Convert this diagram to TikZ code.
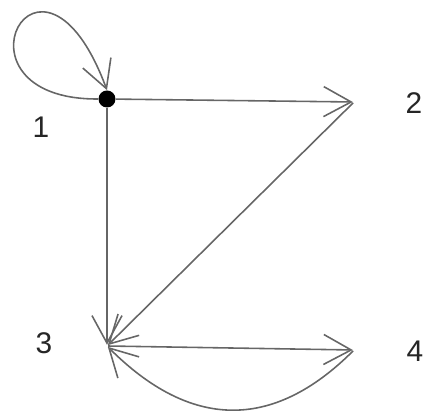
\documentclass[tikz,border=0pt]{standalone}
\usepackage{fontspec}
\setmainfont{Liberation Sans}
\usetikzlibrary{arrows.meta}

\begin{document}
\begin{tikzpicture}[
    vertex/.style={circle, inner sep=0pt, minimum size=1pt},
    dot/.style={circle, fill=black, inner sep=0pt, minimum size=0.34cm},
    num/.style={font=\fontsize{17}{20}\selectfont, text=black!85},
    arrow/.style={-{Straight Barb[length=5.5mm, width=6mm]}, line width=0.9pt, black!60},
]
\useasboundingbox (0,0) rectangle (8.56,-8.32);

% Nodes
\node[dot] (v1) at (2.14,-1.98) {};
\node[vertex] (v2) at (7.08,-2.04) {};
\node[vertex] (v3) at (2.14,-6.92) {};
\node[vertex] (v4) at (7.08,-7.0) {};

\node[num] (l1) at (0.82,-2.54) {1};
\node[num] (l2) at (8.28,-2.06) {2};
\node[num] (l3) at (0.88,-6.86) {3};
\node[num] (l4) at (8.30,-7.02) {4};

% Arrows
\draw[arrow] (v1.west) .. controls (-1.2,-2.0) and (0.8,1.8) .. (v1.north);
\draw[arrow] (v1) -- (v2);
\draw[arrow] (v1) -- (v3);
\draw[arrow] (v2) -- (v3);
\draw[arrow] (v3) -- (v4);
\draw[arrow] (v4) to[out=-135, in=-45, looseness=1.2] (v3);

\end{tikzpicture}
\end{document}
